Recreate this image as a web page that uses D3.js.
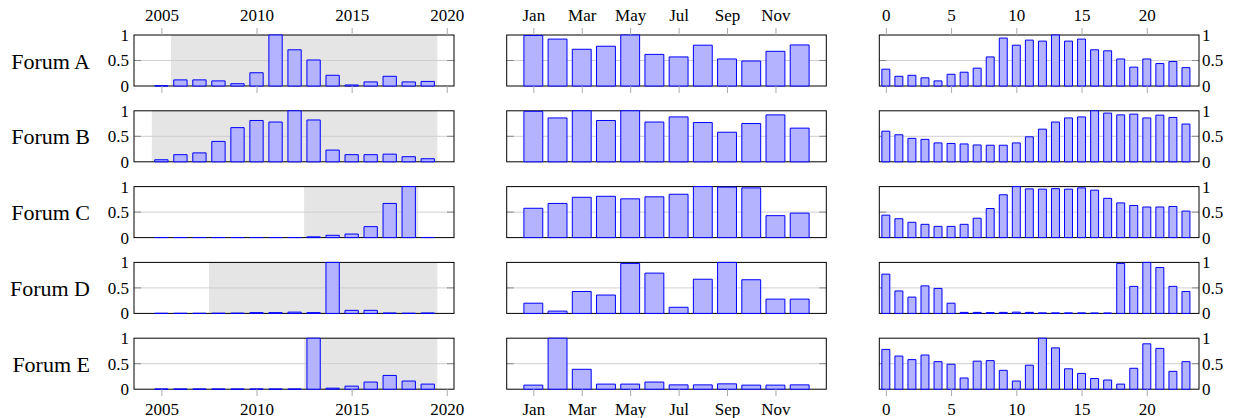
<!DOCTYPE html>
<html>
<head>
<meta charset="utf-8">
<script src="https://cdn.jsdelivr.net/npm/d3@7"></script>
<style>
  body { margin: 0; background: #fff; }
  svg { display: block; }
  text { font-family: "Liberation Serif", "Times New Roman", serif; }
</style>
</head>
<body>
<svg></svg>
<script>
var forums = ["Forum A", "Forum B", "Forum C", "Forum D", "Forum E"];

var years = [2005, 2006, 2007, 2008, 2009, 2010, 2011, 2012, 2013, 2014, 2015, 2016, 2017, 2018, 2019];
var months = ["Jan", "Feb", "Mar", "Apr", "May", "Jun", "Jul", "Aug", "Sep", "Oct", "Nov", "Dec"];
var hours = [0, 1, 2, 3, 4, 5, 6, 7, 8, 9, 10, 11, 12, 13, 14, 15, 16, 17, 18, 19, 20, 21, 22, 23];

// first and last active year of each forum (grey band)
var activeFrom = [2006, 2005, 2013, 2008, 2013];
var activeTo   = [2019, 2019, 2018, 2019, 2019];

var yearA = [0.005, 0.12, 0.12, 0.10, 0.045, 0.26, 1.0, 0.71, 0.51, 0.21, 0.02, 0.08, 0.19, 0.08, 0.09];
var yearB = [0.04, 0.14, 0.175, 0.40, 0.67, 0.81, 0.78, 1.0, 0.82, 0.23, 0.14, 0.14, 0.15, 0.10, 0.06];
var yearC = [0.002, 0.002, 0.002, 0.002, 0.002, 0.002, 0.002, 0.002, 0.015, 0.045, 0.07, 0.215, 0.67, 1.0, 0.003];
var yearD = [0.002, 0.002, 0.002, 0.003, 0.005, 0.015, 0.015, 0.025, 0.015, 1.0, 0.06, 0.06, 0.008, 0.003, 0.008];
var yearE = [0.003, 0.003, 0.003, 0.003, 0.003, 0.003, 0.003, 0.003, 1.0, 0.02, 0.06, 0.14, 0.27, 0.16, 0.10];

var monthA = [0.99, 0.92, 0.72, 0.78, 1.0, 0.62, 0.57, 0.80, 0.53, 0.49, 0.68, 0.805];
var monthB = [0.99, 0.86, 1.0, 0.81, 1.0, 0.78, 0.88, 0.77, 0.58, 0.75, 0.92, 0.66];
var monthC = [0.575, 0.67, 0.79, 0.81, 0.76, 0.80, 0.85, 1.0, 0.99, 0.975, 0.43, 0.48];
var monthD = [0.20, 0.045, 0.43, 0.36, 0.98, 0.79, 0.12, 0.67, 1.0, 0.66, 0.28, 0.28];
var monthE = [0.08, 1.0, 0.39, 0.10, 0.10, 0.14, 0.085, 0.085, 0.105, 0.08, 0.08, 0.085];

var hourA = [0.33, 0.19, 0.21, 0.16, 0.10, 0.23, 0.27, 0.35, 0.57, 0.94, 0.80, 0.90, 0.88, 1.0, 0.88, 0.92, 0.71, 0.69, 0.53, 0.37, 0.53, 0.44, 0.48, 0.36];
var hourB = [0.60, 0.53, 0.46, 0.44, 0.37, 0.36, 0.35, 0.33, 0.325, 0.325, 0.37, 0.49, 0.64, 0.78, 0.86, 0.88, 1.0, 0.955, 0.92, 0.935, 0.86, 0.915, 0.87, 0.74];
var hourC = [0.44, 0.37, 0.30, 0.26, 0.22, 0.22, 0.26, 0.38, 0.57, 0.84, 1.0, 0.955, 0.95, 0.96, 0.95, 0.975, 0.93, 0.77, 0.68, 0.63, 0.60, 0.60, 0.61, 0.52];
var hourD = [0.77, 0.44, 0.32, 0.54, 0.49, 0.20, 0.02, 0.02, 0.015, 0.02, 0.025, 0.02, 0.01, 0.01, 0.01, 0.01, 0.008, 0.008, 0.98, 0.53, 1.0, 0.90, 0.53, 0.43];
var hourE = [0.78, 0.65, 0.58, 0.67, 0.54, 0.49, 0.22, 0.55, 0.56, 0.37, 0.16, 0.47, 1.0, 0.81, 0.40, 0.31, 0.21, 0.18, 0.10, 0.41, 0.89, 0.80, 0.35, 0.54];

var yearTicks = [2005, 2010, 2015, 2020];
var monthTicks = [0, 2, 4, 6, 8, 10];
var hourTicks = [0, 5, 10, 15, 20];
var yTicks = [0, 0.5, 1];

var width = 1233,
    height = 418;

var svg = d3.select("svg")
    .attr("width", width)
    .attr("height", height);

var rowTop = 35, rowStep = 75.8, rowH = 51;
var tickLen = 7;

var panels = [
    { x: d3.scaleLinear().domain([2003.56, 2020.38]).range([134, 454]),
      cats: years, series: [yearA, yearB, yearC, yearD, yearE], barW: 0.7,
      ticks: yearTicks, fmt: function (d) { return d; }, shade: true, yLabels: "left" },
    { x: d3.scaleLinear().domain([-1.1, 12.1]).range([506.7, 826.3]),
      cats: months.map(function (m, i) { return i; }), series: [monthA, monthB, monthC, monthD, monthE], barW: 0.78,
      ticks: monthTicks, fmt: function (d) { return months[d]; }, shade: false, yLabels: null },
    { x: d3.scaleLinear().domain([-0.5, 24]).range([879.3, 1199]),
      cats: hours, series: [hourA, hourB, hourC, hourD, hourE], barW: 0.61,
      ticks: hourTicks, fmt: function (d) { return d; }, shade: false, yLabels: "right" }
];

function styleAxis(g) {
    g.attr("font-family", null);
    g.select(".domain").remove();
    g.selectAll(".tick line").attr("stroke", "#aaa");
    g.selectAll(".tick text")
        .attr("fill", "#000")
        .style("font-size", "17px")
        .style("font-family", '"Liberation Serif", "Times New Roman", serif');
}

forums.forEach(function (name, i) {
    var top = rowTop + i * rowStep;
    var bottom = top + rowH;
    var y = d3.scaleLinear().domain([0, 1]).range([bottom, top]);

    svg.append("text")
        .attr("x", 90)
        .attr("y", top + rowH / 2 + 8)
        .attr("text-anchor", "end")
        .style("font-size", "22px")
        .text(name);

    panels.forEach(function (p) {
        var x = p.x;
        var x0 = x.range()[0], x1 = x.range()[1];
        var g = svg.append("g");

        if (p.shade) {
            g.append("rect")
                .attr("x", x(activeFrom[i] - 0.5))
                .attr("y", top)
                .attr("width", x(activeTo[i] + 0.5) - x(activeFrom[i] - 0.5))
                .attr("height", rowH)
                .attr("fill", "#e5e5e5");
        }

        // grid line at 0.5
        g.append("line")
            .attr("x1", x0).attr("x2", x1)
            .attr("y1", y(0.5)).attr("y2", y(0.5))
            .attr("stroke", "#cfcfcf");

        // inner y tick marks
        g.append("line")
            .attr("x1", x0).attr("x2", x0 + tickLen)
            .attr("y1", y(0.5)).attr("y2", y(0.5))
            .attr("stroke", "#888");
        g.append("line")
            .attr("x1", x1 - tickLen).attr("x2", x1)
            .attr("y1", y(0.5)).attr("y2", y(0.5))
            .attr("stroke", "#888");

        g.append("rect")
            .attr("x", x0).attr("y", top)
            .attr("width", x1 - x0).attr("height", rowH)
            .attr("fill", "none")
            .attr("stroke", "#000");

        var vals = p.series[i];
        g.append("g")
            .selectAll("path")
            .data(p.cats)
            .enter()
            .append("path")
            .attr("d", function (c, k) {
                var a = x(c - p.barW / 2), b = x(c + p.barW / 2);
                var yb = y(0), yt = y(vals[k]);
                return "M" + a + "," + yb + "V" + yt + "H" + b + "V" + yb + "Z";
            })
            .attr("fill", "#b3b3ff")
            .attr("stroke", "#0000ff")
            .attr("stroke-width", 1);

        if (i === 0) {
            g.append("g")
                .attr("transform", "translate(0," + top + ")")
                .call(d3.axisTop(x).tickValues(p.ticks).tickFormat(p.fmt).tickSize(tickLen).tickPadding(7))
                .call(styleAxis);
            g.append("g")
                .attr("transform", "translate(0," + bottom + ")")
                .call(d3.axisBottom(x).tickValues(p.ticks).tickFormat("").tickSize(tickLen))
                .call(styleAxis);
        }
        if (i === forums.length - 1) {
            g.append("g")
                .attr("transform", "translate(0," + bottom + ")")
                .call(d3.axisBottom(x).tickValues(p.ticks).tickFormat(p.fmt).tickSize(tickLen).tickPadding(7))
                .call(styleAxis);
        }

        if (p.yLabels === "left") {
            g.append("g")
                .attr("transform", "translate(" + x0 + ",0)")
                .call(d3.axisLeft(y).tickValues(yTicks).tickFormat(d3.format("")).tickSize(0).tickPadding(5))
                .call(styleAxis);
        } else if (p.yLabels === "right") {
            g.append("g")
                .attr("transform", "translate(" + x1 + ",0)")
                .call(d3.axisRight(y).tickValues(yTicks).tickFormat(d3.format("")).tickSize(0).tickPadding(3))
                .call(styleAxis);
        }
    });
});
</script>
</body>
</html>
